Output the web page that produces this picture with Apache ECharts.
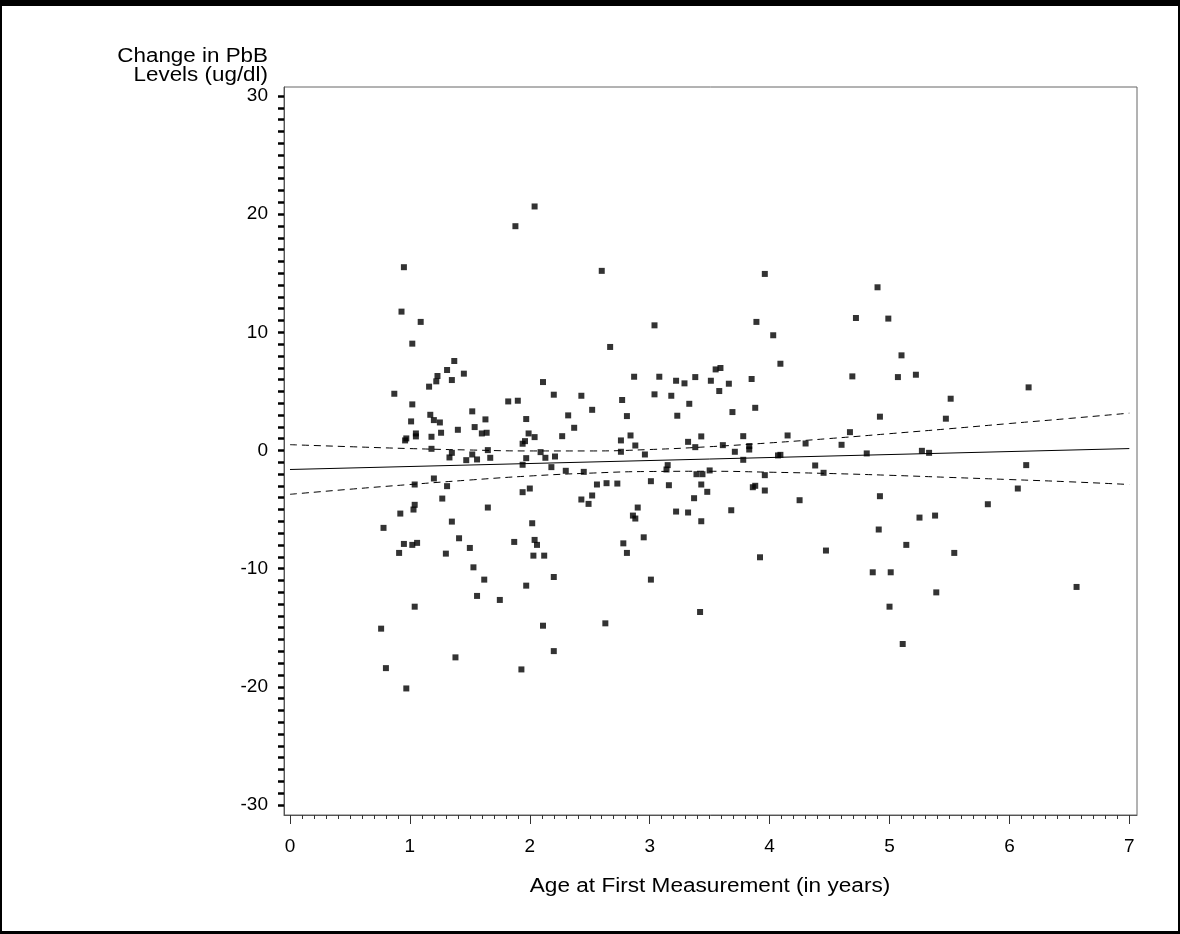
<!DOCTYPE html>
<html>
<head>
<meta charset="utf-8">
<script src="https://cdn.jsdelivr.net/npm/echarts@6/dist/echarts.min.js"></script>
<style>
  html, body {margin: 0; padding: 0; background: #fff;}
  #chart {position: absolute; left: 0; top: 0; width: 1180px; height: 934px;}
  #frame {
    position: absolute; left: 0; top: 0; width: 1180px; height: 934px;
    box-sizing: border-box; pointer-events: none;
    border-style: solid; border-color: #000;
    border-width: 6px 2px 3px 2px;
  }
</style>
</head>
<body>
<div id="chart"></div>
<div id="frame"></div>
<script>
// scatter: age at first measurement (years) vs change in PbB (ug/dl)
const ages = [
  0.95, 0.93, 1.09, 1.02, 1.37, 1.31, 1.23, 1.22, 1.35, 1.45, 1.16, 0.87, 1.02, 2.11, 2.20, 1.82, 1.90, 1.17,
  1.52, 1.20, 1.25, 1.01, 1.63, 1.97, 2.32, 1.54, 1.40, 1.05, 1.05, 0.97, 0.96, 1.26, 1.60, 1.64, 1.18, 2.04,
  1.99, 1.96, 1.94, 2.27, 1.18, 1.65, 1.35, 1.33, 1.52, 1.47, 1.56, 1.67, 2.09, 2.13, 2.21, 1.97,
  2.18, 2.30, 1.94, 1.20, 1.04, 1.31, 1.94, 2.00, 1.27, 1.04, 1.03, 0.92, 1.65, 1.35, 2.02, 0.78, 1.41, 1.87,
  2.04, 2.06, 0.95, 1.02, 1.06, 0.91, 1.30, 1.50, 2.03, 2.12, 1.53, 1.62, 2.20, 1.97, 1.56, 1.75, 1.04, 0.76,
  2.11, 2.20, 1.38, 0.80, 1.93, 0.97,
  2.60, 3.96, 3.04, 3.89, 2.67, 4.03, 4.09, 2.87, 3.08, 3.55, 3.59, 3.22, 3.29, 3.38, 3.51, 3.66, 3.85, 3.58,
  2.43, 3.04, 3.18, 2.77, 2.52, 3.33, 2.81, 3.23, 3.69, 3.88, 2.37, 2.84, 2.76, 3.43, 3.32, 3.78, 4.15, 4.30,
  4.60, 4.67, 2.88, 3.38, 3.61, 3.83, 3.83, 2.76, 2.96, 3.71, 4.07, 4.09, 3.78,
  2.45, 3.14, 3.15, 3.50, 3.39, 3.44, 3.96, 4.38, 4.45, 2.56, 2.64, 2.73, 3.01, 3.16, 3.43, 3.86, 3.88, 3.96,
  2.52, 2.43, 2.49, 3.48, 3.37, 4.25, 2.90, 2.86, 2.88, 3.22, 3.32, 3.68, 3.43, 2.95, 2.78, 2.81, 3.92, 4.47,
  3.01, 3.42, 2.63,
  4.90, 4.72, 4.99, 5.10, 4.69, 5.07, 5.22, 6.16, 5.51, 4.92, 5.47, 4.81, 5.27, 5.33,
  6.14, 6.07, 4.92, 5.82, 5.25, 5.38, 4.91, 5.14, 5.54, 4.86, 5.01, 6.56, 5.39, 5.00, 5.11,
  2.04, 1.88
]
const changes = [
  15.51, 11.75, 10.88, 9.04, 7.57, 6.81, 6.30, 5.85, 5.96, 6.50, 5.40, 4.80, 3.90, 5.79, 4.72, 4.15, 4.21, 3.02,
  3.31, 2.57, 2.37, 2.46, 2.63, 2.66, 2.97, 1.98, 1.75, 1.44, 1.19, 1.02, 0.85, 1.50, 1.44, 1.50, 1.16, 1.13,
  1.44, 0.79, 0.57, 1.21, 0.14, 0.03, -0.20, -0.59, -0.34, -0.82, -0.76, -0.62, -0.14, -0.62, -0.51, -0.65,
  -1.41, -1.72, -1.21, -2.37, -2.88, -3.02, -3.53, -3.22, -4.07, -4.60, -5.00, -5.34, -4.83, -6.02, -6.16, -6.55, -7.43, -7.74,
  -7.57, -7.99, -7.91, -7.99, -7.82, -8.67, -8.73, -8.25, -8.90, -8.90, -9.89, -10.93, -10.71, -11.44, -12.31, -12.65, -13.22, -15.08,
  -14.83, -16.98, -17.51, -18.42, -18.53, -20.14,
  15.20, 14.94, 10.59, 10.88, 8.76, 9.75, 7.34, 6.24, 6.24, 6.86, 6.98, 5.90, 5.68, 6.21, 5.90, 5.65, 6.05, 5.03,
  4.63, 4.75, 4.63, 4.27, 3.44, 3.95, 2.91, 2.94, 3.25, 3.61, 1.92, 1.27, 0.85, 1.19, 0.73, 1.21, 1.27, 0.59,
  0.48, 1.55, 0.42, 0.28, 0.45, 0.37, 0.08, -0.11, -0.34, -0.11, -0.42, -0.37, -0.79,
  -1.81, -1.61, -1.24, -1.69, -2.01, -2.01, -2.09, -1.27, -1.89, -2.88, -2.77, -2.80, -2.60, -2.94, -2.88, -3.11, -2.99, -3.39,
  -3.81, -4.15, -4.52, -3.50, -4.04, -4.21, -4.83, -5.51, -5.76, -5.17, -5.25, -5.06, -5.99, -7.35, -7.86, -8.67, -9.04, -8.47,
  -10.93, -13.67, -14.63,
  13.81, 11.21, 11.16, 8.05, 6.27, 6.21, 6.41, 5.34, 4.38, 2.86, 2.69, -0.25, -0.03, -0.20,
  -1.24, -3.22, -3.87, -4.55, -5.68, -5.51, -6.69, -7.99, -8.67, -10.31, -10.31, -11.55, -12.01, -13.22, -16.38,
  20.65, 18.98
]

// fitted line and its confidence band
const fitAges = [0, 7]
const fitChange = [-1.61, 0.16]
const bandAges = [0, 0.5, 1, 1.5, 2, 2.5, 3, 3.5, 4, 4.5, 5, 5.5, 6, 6.5, 7]
const upperBand = [0.49, 0.32, 0.16, 0.04, -0.04, -0.04, 0.08, 0.32, 0.64, 1.01, 1.42, 1.84, 2.28, 2.71, 3.16]
const lowerBand = [-3.71, -3.28, -2.88, -2.50, -2.16, -1.92, -1.78, -1.76, -1.84, -1.95, -2.10, -2.28, -2.46, -2.65, -2.88]

const xTickLabels = [0, 1, 2, 3, 4, 5, 6, 7]
const yTickLabels = [-30, -20, -10, 0, 10, 20, 30]

const zip = (xs, ys) => xs.map((x, i) => [x, ys[i]])

// minor tick positions
const xMinor = []
for (let i = 0; i <= 70; i++) if (i % 10) xMinor.push(i / 10)
const yMinor = []
for (let v = -30; v <= 30; v++) yMinor.push(v)

const FONT = 'Liberation Sans, Arial, Helvetica, sans-serif'
const chart = echarts.init(document.getElementById('chart'))

const dashed = {color: '#000', width: 1, type: [7, 5]}

chart.setOption({
  animation: false,
  backgroundColor: '#fff',
  textStyle: {fontFamily: FONT},
  grid: {
    left: 284, top: 87, right: 43, bottom: 119,
    show: true, borderColor: '#666', borderWidth: 1,
    containLabel: false, outerBoundsMode: 'none'
  },
  xAxis: [{
    type: 'value', min: -0.05, max: 7.064,
    axisLine: {show: true, onZero: false, lineStyle: {color: '#555', width: 1}},
    axisTick: {show: true, inside: false, customValues: xTickLabels, length: 9, lineStyle: {color: '#333', width: 1}},
    axisLabel: {customValues: xTickLabels, fontSize: 19, margin: 22, color: '#000', fontFamily: FONT},
    splitLine: {show: false}
  }, {
    type: 'value', min: -0.05, max: 7.064, position: 'bottom',
    axisLine: {show: false, onZero: false},
    axisTick: {show: true, inside: false, customValues: xMinor, length: 4, lineStyle: {color: '#333', width: 1}},
    axisLabel: {show: false},
    splitLine: {show: false}
  }],
  yAxis: {
    type: 'value', min: -30.85, max: 30.76,
    axisLine: {show: true, onZero: false, lineStyle: {color: '#555', width: 1}},
    axisTick: {show: true, inside: false, customValues: yMinor, length: 6, lineStyle: {color: '#000', width: 2.5}},
    axisLabel: {customValues: yTickLabels, fontSize: 19, margin: 16, color: '#000', fontFamily: FONT},
    splitLine: {show: false}
  },
  graphic: [{
    type: 'text', x: 268, y: 47, scaleX: 1.12,
    style: {
      text: 'Change in PbB\nLevels (ug/dl)', align: 'right', verticalAlign: 'top',
      font: '20px ' + FONT, fill: '#000', lineHeight: 19
    }
  }, {
    type: 'text', x: 710, y: 886, scaleX: 1.13,
    style: {
      text: 'Age at First Measurement (in years)', align: 'center', verticalAlign: 'middle',
      font: '20px ' + FONT, fill: '#000'
    }
  }],
  series: [{
    type: 'scatter', data: zip(ages, changes),
    symbol: 'rect', symbolSize: 6,
    itemStyle: {color: '#000'}
  }, {
    type: 'line', data: zip(fitAges, fitChange), showSymbol: false,
    lineStyle: {color: '#000', width: 1}
  }, {
    type: 'line', data: zip(bandAges, upperBand), showSymbol: false, smooth: true,
    lineStyle: dashed
  }, {
    type: 'line', data: zip(bandAges, lowerBand), showSymbol: false, smooth: true,
    lineStyle: dashed
  }]
})
</script>
</body>
</html>
